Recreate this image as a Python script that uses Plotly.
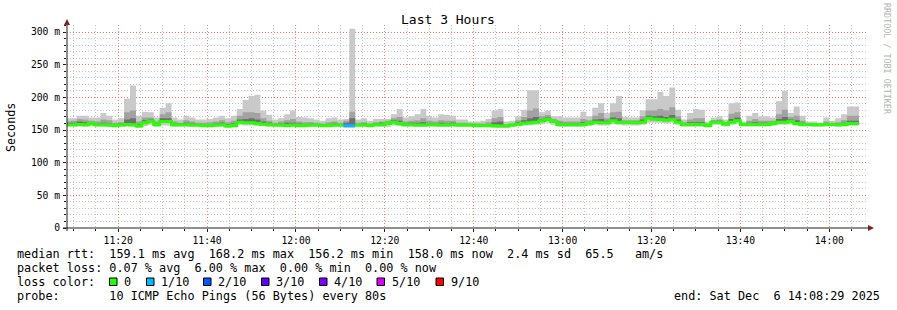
import datetime as dt
import plotly.graph_objects as go

# ---------------- data ----------------
step_start = "2025-12-06 11:08:00"
step_seconds = 80
view_start = "2025-12-06 11:08:29"
view_end = "2025-12-06 14:08:29"

rtt_max = [
    168, 168, 172, 172, 169, 169, 176, 172, 166, 168,
    198, 218, 172, 178, 177, 169, 184, 191, 169, 166,
    172, 169, 166, 166, 167, 169, 172, 168, 172, 182,
    196, 202, 204, 180, 173.5, 166, 168, 174, 180, 170,
    169, 168, 166, 164, 168, 169, 166, 167, 305, 166,
    168, 164, 167, 167, 167, 174, 182, 169, 171, 174,
    182, 172, 169, 174, 173, 172, 166, 166, 163, 163,
    164, 167, 180, 182, 163, 164, 171, 181, 211, 211,
    177, 180, 171, 171, 169, 169, 169, 178, 171, 184,
    191, 176, 191, 202, 170, 169, 169, 180, 197, 197,
    208, 202, 215, 181, 166, 176, 182, 181, 163, 169,
    171, 166, 191, 192, 163, 172, 176, 171, 171, 169,
    194, 210, 176, 186, 172, 163, 163, 161, 169, 164,
    168, 174, 186, 186,
]

rtt_p9 = [
    163, 164, 167, 166, 164, 163, 166, 165, 161, 162,
    177, 180, 163, 169, 169, 163, 174, 177, 163, 161,
    165, 163, 161, 161, 162, 163, 165, 162, 164, 172,
    177, 177, 176, 168, 164, 161, 163, 165, 167, 163,
    162, 162, 161, 160, 162, 163, 161, 164, 178, 161,
    162, 160, 162, 163, 164, 168, 170, 163, 164, 165,
    168, 164, 163, 165, 164, 164, 161, 161, 160, 160,
    160, 162, 168, 170, 159, 160, 165, 170, 180, 183,
    171, 173, 167, 164, 163, 163, 163, 167, 165, 172,
    176, 168, 177, 178, 165, 165, 165, 171, 180, 180,
    182, 180, 185, 171, 162, 166, 168, 168, 160, 165,
    166, 162, 175, 177, 160, 164, 167, 164, 164, 164,
    174, 181, 170, 172, 164, 160, 160, 159.5, 163, 161,
    162, 165, 172, 172,
]

rtt_p7 = [
    161, 161, 163, 162, 162, 160, 161, 160, 159, 160,
    166, 168, 159, 165, 166, 160, 168, 168, 160, 160,
    161, 160, 159, 159, 159, 160, 161, 159, 160, 166,
    167, 168, 166, 163, 161, 159, 160, 161, 161, 160,
    159, 160, 159, 159, 159, 160, 159, 161, 168, 159,
    160, 159, 160, 161, 162, 165, 164, 160, 161, 161,
    162, 160, 160, 161, 160, 161, 159, 159, 159, 158.5,
    158.5, 159, 162, 163, 157, 159, 162, 165, 168, 170,
    167, 169, 165, 161, 160, 160, 160, 162, 162, 166,
    167, 164, 169, 168, 163, 163, 163, 166, 172, 171,
    172, 170, 173, 166, 160, 162, 162, 162, 158.5, 164,
    164, 161, 167, 169, 159.5, 161, 162, 161, 161, 162,
    167, 170, 166, 165, 161, 159.5, 159, 159, 160, 160,
    160, 161, 164, 164,
]

rtt_med = [
    158, 158, 158.5, 158, 160, 158, 158, 157.5, 157, 157.5,
    158.5, 158, 156, 161, 163.5, 158, 163, 163, 158, 158,
    158, 157.5, 157.5, 157, 157, 157.5, 158, 156, 157, 162,
    161, 161, 160, 159, 158, 157.5, 157.5, 157, 157.5, 157,
    157, 157.5, 157.5, 157, 157, 157.5, 157.5, 156.5, 156.5, 157.5,
    157.5, 157, 158, 158, 160, 162, 160, 158, 158, 157.5,
    157.5, 158, 158, 157.5, 157.5, 158, 157.5, 157.5, 157.5, 157,
    157, 157, 156.5, 156, 156, 157.5, 159, 160.5, 161, 162,
    164, 166, 163, 158.5, 158, 158, 158, 158.5, 160, 162,
    161, 161, 164, 162, 161.5, 161.5, 161, 162, 168, 166.5,
    166, 165, 166.5, 162, 158.5, 158.5, 158.5, 158.5, 157, 162,
    162, 159, 162, 164, 158.5, 158.5, 158.5, 158.5, 158.5, 160,
    162, 162, 163, 160, 158.5, 158.5, 158, 158, 158.5, 158.5,
    158, 158.5, 160, 160,
]

rtt_min = [
    155, 155, 155.5, 155, 156, 155, 155, 154.5, 154, 155,
    155, 155, 153, 156, 158, 155, 157, 157, 155, 155,
    155, 154.5, 154.5, 154, 154, 154.5, 155, 153, 154, 158,
    157, 157, 156, 156, 155, 154.5, 154.5, 154, 154.5, 154,
    154, 154.5, 154.5, 154, 154, 154.5, 154.5, 153.5, 153.5, 154.5,
    154.5, 154, 155, 155, 155, 157, 156, 155, 155, 154.5,
    154.5, 155, 155, 154.5, 154.5, 155, 154.5, 154.5, 154.5, 154,
    154, 154, 153.5, 153, 152.5, 154.5, 156, 157, 157, 158,
    159, 161, 158, 155, 155, 155, 155, 155, 156, 158,
    157, 157, 159, 158, 157, 157, 157, 158, 161, 161,
    161, 160, 161, 158, 155, 155, 155, 155, 154, 158,
    158, 155.5, 158, 160, 155.5, 155.5, 155.5, 155.5, 155.5, 156.5,
    158, 158, 159, 156.5, 155.5, 155.5, 155, 155, 155.5, 155.5,
    155, 155.5, 156.5, 156.5,
]

# lost pings (out of 10) per step
loss_count = [
    0, 0, 0, 0, 0, 0, 0, 0, 0, 0,
    0, 0, 0, 0, 0, 0, 0, 0, 0, 0,
    0, 0, 0, 0, 0, 0, 0, 0, 0, 0,
    0, 0, 0, 0, 0, 0, 0, 0, 0, 0,
    0, 0, 0, 0, 0, 0, 0, 1, 1, 0,
    0, 0, 0, 0, 0, 0, 0, 0, 0, 0,
    0, 0, 0, 0, 0, 0, 0, 0, 0, 0,
    0, 0, 0, 0, 0, 0, 0, 0, 0, 0,
    0, 0, 0, 0, 0, 0, 0, 0, 0, 0,
    0, 0, 0, 0, 0, 0, 0, 0, 0, 0,
    0, 0, 0, 0, 0, 0, 0, 0, 0, 0,
    0, 0, 0, 0, 0, 0, 0, 0, 0, 0,
    0, 0, 0, 0, 0, 0, 0, 0, 0, 0,
    0, 0, 0, 0,
]

loss_labels = ["0", "1/10", "2/10", "3/10", "4/10", "5/10", "9/10"]
loss_colors = ["#26ff00", "#00b8ff", "#0059ff", "#5e00ff", "#7e00ff", "#dd00ff", "#ff0000"]
loss_level_of_count = {0: 0, 1: 1, 2: 2, 3: 3, 4: 4, 5: 5}

y_tick_values = [0, 50, 100, 150, 200, 250, 300]
y_tick_labels = ["0", "50 m", "100 m", "150 m", "200 m", "250 m", "300 m"]

title_text = "Last 3 Hours"
y_title = "Seconds"
stats_rtt = "median rtt:  159.1 ms avg  168.2 ms max  156.2 ms min  158.0 ms now  2.4 ms sd  65.5   am/s"
stats_loss = "packet loss: 0.07 % avg  6.00 % max  0.00 % min  0.00 % now"
loss_caption = "loss color:"
probe_text = "probe:       10 ICMP Echo Pings (56 Bytes) every 80s"
end_text = "end: Sat Dec  6 14:08:29 2025"
watermark = "RRDTOOL / TOBI OETIKER"

# ---------------- styling ----------------
W, H = 897, 310
PL, PW = 67, 800
PT, PH = 25, 203
MONO = "DejaVu Sans Mono"
SMOKE = ["#c9c9c9", "#a2a2a2", "#707070"]
GRID = "rgba(150,150,150,0.55)"
MGRID = "rgba(235,90,90,0.75)"
AXIS = "#1f1f1f"
ARROW = "#801f1f"
DASH_MINOR = "1px,2px"
DASH_MAJOR = "1px,2px"
LEG_SIZE = 11.8
LEG_X = 14.5


def px(x):
    return (x - PL) / PW


def py(y):
    return (PT + PH - y) / PH


def nbsp(s):
    return s.replace(" ", "\u00a0")


t0 = dt.datetime.fromisoformat(step_start)
n = len(rtt_med)
edges = [t0 + dt.timedelta(seconds=step_seconds * i) for i in range(n + 1)]


def closed(vals):
    return list(vals) + [vals[-1]]


fig = go.Figure()


def band(lower, upper, color):
    fig.add_trace(go.Scatter(x=edges, y=closed(lower), mode="lines",
                             line=dict(width=0, shape="hv"), hoverinfo="skip",
                             showlegend=False))
    fig.add_trace(go.Scatter(x=edges, y=closed(upper), mode="lines",
                             line=dict(width=0, shape="hv"), fill="tonexty",
                             fillcolor=color, hoverinfo="skip", showlegend=False))


band(rtt_min, rtt_max, SMOKE[0])
band(rtt_med, rtt_p9, SMOKE[1])
band(rtt_med, rtt_p7, SMOKE[2])

# median line, coloured by loss, drawn in runs
i = 0
while i < n:
    j = i
    while j < n and loss_count[j] == loss_count[i]:
        j += 1
    color = loss_colors[loss_level_of_count.get(loss_count[i], 6)]
    fig.add_trace(go.Scatter(x=edges[i:j + 1], y=closed(rtt_med[i:j]), mode="lines",
                             line=dict(width=3, color=color, shape="hv"),
                             hoverinfo="skip", showlegend=False))
    i = j

shapes = [
    # axes
    dict(type="line", xref="paper", yref="paper", x0=px(67), x1=px(67), y0=py(231), y1=py(22),
         line=dict(color=AXIS, width=1)),
    dict(type="line", xref="paper", yref="paper", x0=px(63), x1=px(869), y0=py(228), y1=py(228),
         line=dict(color=AXIS, width=1)),
    # arrows
    dict(type="path", xref="paper", yref="paper",
         path=f"M {px(64)} {py(25)} L {px(70)} {py(25)} L {px(67)} {py(19)} Z",
         fillcolor=ARROW, line=dict(color=ARROW, width=0)),
    dict(type="path", xref="paper", yref="paper",
         path=f"M {px(868)} {py(225)} L {px(868)} {py(231)} L {px(874)} {py(228)} Z",
         fillcolor=ARROW, line=dict(color=ARROW, width=0)),
]

annotations = [
    dict(text=title_text, x=px(448), y=py(19), xref="paper", yref="paper",
         showarrow=False, xanchor="center", yanchor="middle",
         font=dict(family=MONO, size=13, color="black")),
    dict(text=y_title, x=px(11), y=py(127), xref="paper", yref="paper",
         showarrow=False, xanchor="center", yanchor="middle", textangle=-90,
         font=dict(family=MONO, size=11.7, color="black")),
    dict(text=nbsp(watermark), x=px(887), y=py(59), xref="paper", yref="paper",
         showarrow=False, xanchor="center", yanchor="middle", textangle=90,
         font=dict(family=MONO, size=8.4, color="#b4b4b4")),
]

rows_y = [254, 268, 282, 296]
for txt, yy in [(stats_rtt, rows_y[0]), (stats_loss, rows_y[1]),
                (loss_caption, rows_y[2]), (probe_text, rows_y[3])]:
    annotations.append(dict(text=nbsp(txt), x=px(LEG_X), y=py(yy), xref="paper", yref="paper",
                            showarrow=False, xanchor="left", yanchor="middle",
                            font=dict(family=MONO, size=LEG_SIZE, color="black")))
annotations.append(dict(text=nbsp(end_text), x=px(882), y=py(rows_y[3]), xref="paper",
                        yref="paper", showarrow=False, xanchor="right", yanchor="middle",
                        font=dict(family=MONO, size=LEG_SIZE, color="black")))

box_x = [109.5, 146.5, 203.5, 261.5, 319.5, 377, 436]
for bx, lab, col in zip(box_x, loss_labels, loss_colors):
    shapes.append(dict(type="rect", xref="paper", yref="paper",
                       x0=px(bx), x1=px(bx + 7.5), y0=py(rows_y[2] + 3.5), y1=py(rows_y[2] - 4),
                       fillcolor=col, line=dict(color="black", width=1)))
    annotations.append(dict(text=nbsp(lab), x=px(bx + 12.5), y=py(rows_y[2]), xref="paper",
                            yref="paper", showarrow=False, xanchor="left", yanchor="middle",
                            font=dict(family=MONO, size=LEG_SIZE, color="black")))

fig.update_layout(
    width=W, height=H,
    margin=dict(l=PL, r=W - PL - PW, t=PT, b=H - PT - PH, pad=0),
    paper_bgcolor="white", plot_bgcolor="white",
    showlegend=False,
    shapes=shapes, annotations=annotations,
    xaxis=dict(
        type="date", range=[view_start, view_end],
        tickformat="%H:%M", tick0="2025-12-06 11:20:00", dtick=20 * 60 * 1000,
        showgrid=True, gridcolor=MGRID, griddash=DASH_MAJOR, gridwidth=1,
        ticks="outside", ticklen=3, tickcolor=AXIS, tickwidth=1,
        minor=dict(tick0="2025-12-06 11:10:00", dtick=5 * 60 * 1000, showgrid=True,
                   gridcolor=GRID, griddash=DASH_MINOR, gridwidth=1,
                   ticks="outside", ticklen=2, tickcolor=AXIS),
        tickfont=dict(family=MONO, size=9.7, color="black"),
        showline=False, zeroline=False, fixedrange=True,
    ),
    yaxis=dict(
        range=[0, PH / 0.6533],
        tickvals=y_tick_values, ticktext=y_tick_labels,
        showgrid=True, gridcolor=MGRID, griddash=DASH_MAJOR, gridwidth=1,
        ticks="outside", ticklen=3, tickcolor=AXIS, tickwidth=1,
        minor=dict(dtick=10, tick0=0, showgrid=True, gridcolor=GRID, griddash=DASH_MINOR,
                   gridwidth=1, ticks="outside", ticklen=2, tickcolor=AXIS),
        tickfont=dict(family=MONO, size=9.7, color="black"),
        ticklabelstandoff=1,
        showline=False, zeroline=False, fixedrange=True,
    ),
)

fig.write_html("out.html")
